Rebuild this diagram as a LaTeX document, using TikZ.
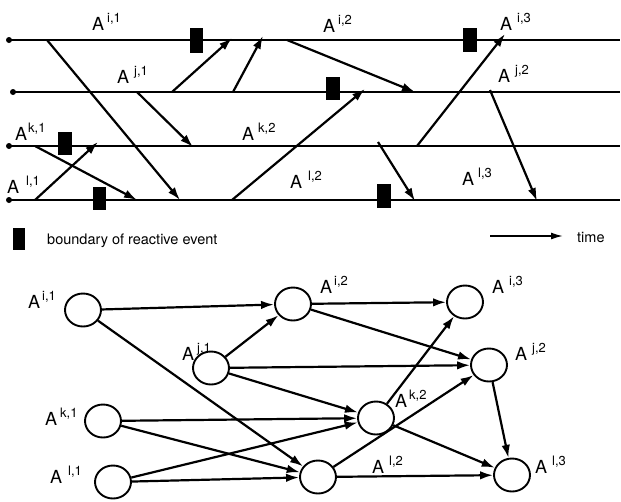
\documentclass[tikz,border=0pt]{standalone}
\usepackage{fontspec}
\setmainfont{TeX Gyre Heros}
\usetikzlibrary{arrows.meta,shapes.geometric}
\newcommand{\AL}[2]{{\fontsize{18}{18}\selectfont A}\hspace{#1pt}\raisebox{8pt}{\fontsize{13}{13}\selectfont #2}}
\begin{document}
\begin{tikzpicture}[x=1pt,y=-1pt,
  tline/.style={line width=1.5pt},
  tarrow/.style={line width=2.2pt,-{Latex[length=13pt,width=8.5pt]}},
  garrow/.style={line width=2.2pt,-{Latex[length=13pt,width=8.5pt]}},
  evbox/.style={fill=black,draw=none},
  enddot/.style={circle,fill=black,inner sep=0pt,minimum size=6pt},
  gnode/.style={ellipse,draw,line width=1.9pt,minimum width=36pt,minimum height=33pt,inner sep=0pt},
  lab/.style={anchor=base west,inner sep=0pt}]
\useasboundingbox (0,0) rectangle (621,501);
% ---------- time lines ----------
\node[enddot] (iL) at (9,40) {};
\node[enddot] (jL) at (13,92) {};
\node[enddot] (kL) at (9,146) {};
\node[enddot] (lL) at (9,200) {};
\coordinate (iR) at (620,40);
\coordinate (jR) at (620,92);
\coordinate (kR) at (620,146);
\coordinate (lR) at (620,200);
\draw[tline] (iL.center) -- (iR);
\draw[tline] (jL.center) -- (jR);
\draw[tline] (kL.center) -- (kR);
\draw[tline] (lL.center) -- (lR);
% event boundaries
\fill[evbox] (190,28) rectangle (203,53);
\fill[evbox] (463,28) rectangle (477,52);
\fill[evbox] (326,77) rectangle (340,100);
\fill[evbox] (58,132) rectangle (72,155);
\fill[evbox] (93,187) rectangle (106,210);
\fill[evbox] (377,184) rectangle (391,208);
% message coordinates
\coordinate (a1s) at (47,40);   \coordinate (a1e) at (180,200);
\coordinate (a2s) at (172,92);  \coordinate (a2e) at (232,38);
\coordinate (a3s) at (233,92);  \coordinate (a3e) at (263,36);
\coordinate (a4s) at (137,92);  \coordinate (a4e) at (193,147);
\coordinate (a5s) at (35,146);  \coordinate (a5e) at (137,200);
\coordinate (a6s) at (35,200);  \coordinate (a6e) at (98,142);
\coordinate (a7s) at (232,200); \coordinate (a7e) at (365,89);
\coordinate (a8s) at (287,40);  \coordinate (a8e) at (415,92);
\coordinate (a9s) at (417,146); \coordinate (a9e) at (505,34);
\coordinate (a10s) at (378,142); \coordinate (a10e) at (415,201);
\coordinate (a11s) at (490,90); \coordinate (a11e) at (537,201);
\foreach \n in {1,...,11} \draw[tarrow] (a\n s) -- (a\n e);
% labels top
\node[lab] (ti1) at (92,30) {\AL{3}{i,1}};
\node[lab] (tj1) at (117,83) {\AL{5}{j,1}};
\node[lab] (tk1) at (15,140) {\AL{1}{k,1}};
\node[lab] (tl1) at (7,193) {\AL{7}{l,1}};
\node[lab] (tk2) at (242,140) {\AL{4}{k,2}};
\node[lab] (tl2) at (290,188) {\AL{6}{l,2}};
\node[lab] (ti2) at (323,32) {\AL{3}{i,2}};
\node[lab] (ti3) at (500,30) {\AL{5}{i,3}};
\node[lab] (tj2) at (498,82) {\AL{5}{j,2}};
\node[lab] (tl3) at (462,185) {\AL{4}{l,3}};
% legend
\fill[evbox] (13,228) rectangle (25,250);
\node[lab] (legtxt) at (47,244) {\fontsize{14.5}{14.5}\selectfont boundary of reactive event};
\coordinate (tA) at (490,236);
\coordinate (tB) at (563,236);
\draw[line width=1.6pt,-{Latex[length=12pt,width=7pt]}] (tA) -- (tB);
\node[lab] (timetxt) at (577,242) {\fontsize{14.5}{14.5}\selectfont time};
% ---------- graph ----------
\node[gnode] (i1) at (83,310) {};
\node[gnode] (j1) at (211,368) {};
\node[gnode] (k1) at (103,421) {};
\node[gnode] (l1) at (113,482) {};
\node[gnode] (i2) at (293,304) {};
\node[gnode] (l2) at (318,477) {};
\node[gnode] (k2) at (376,418) {};
\node[gnode] (i3) at (465,302) {};
\node[gnode] (j2) at (489,365) {};
\node[gnode] (l3) at (512,475) {};
\draw[garrow] (i1) -- (i2);
\draw[garrow] (i1) -- (l2);
\draw[garrow] (j1) -- (i2);
\draw[garrow] (j1) -- (j2);
\draw[garrow] (j1) -- (k2);
\draw[garrow] (k1) -- (k2);
\draw[garrow] (k1) -- (l2);
\draw[garrow] (l1) -- (k2);
\draw[garrow] (l1) -- (l2);
\draw[garrow] (i2) -- (i3);
\draw[garrow] (i2) -- (j2);
\draw[garrow] (k2) -- (i3);
\draw[garrow] (k2) -- (l3);
\draw[garrow] (l2) -- (j2);
\draw[garrow] (l2) -- (l3);
\draw[garrow] (j2) -- (l3);
% labels graph
\node[lab] (gi1) at (28,308) {\AL{2}{i,1}};
\node[lab] (gj1) at (182,360) {\AL{3}{j,1}};
\node[lab] (gk1) at (45,425) {\AL{3}{k,1}};
\node[lab] (gl1) at (50,483) {\AL{6}{l,1}};
\node[lab] (gi2) at (320,293) {\AL{2}{i,2}};
\node[lab] (gi3) at (492,293) {\AL{5}{i,3}};
\node[lab] (gj2) at (515,360) {\AL{5}{j,2}};
\node[lab] (gk2) at (395,407) {\AL{2}{k,2}};
\node[lab] (gl2) at (372,473) {\AL{5}{l,2}};
\node[lab] (gl3) at (535,473) {\AL{5}{l,3}};
\end{tikzpicture}
\end{document}
